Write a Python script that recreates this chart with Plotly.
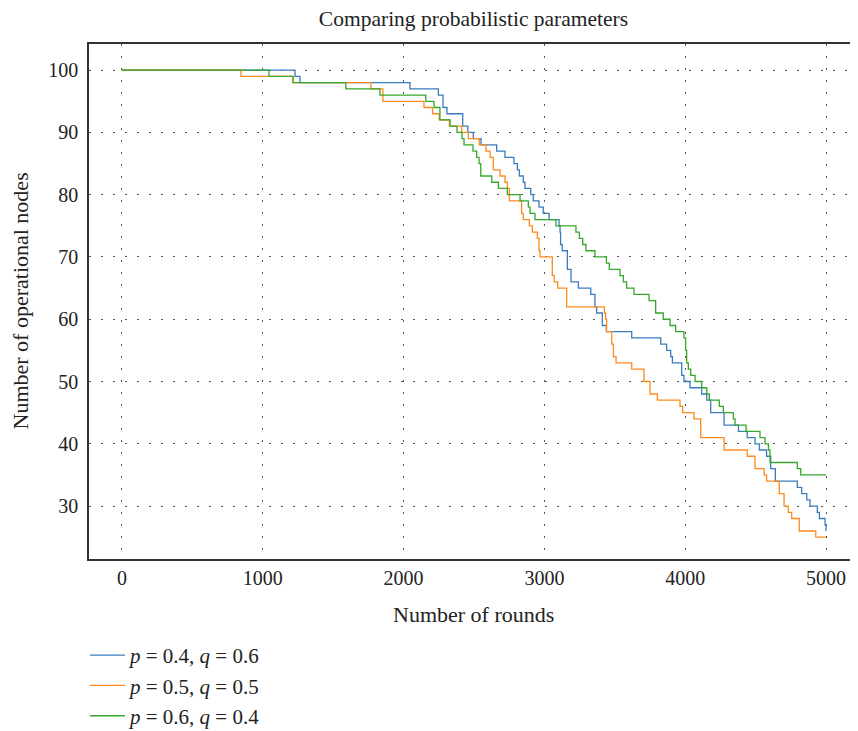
import plotly.graph_objects as go

# ---- data ----
series_names = ["<i>p</i> = 0.4, <i>q</i> = 0.6",
                "<i>p</i> = 0.5, <i>q</i> = 0.5",
                "<i>p</i> = 0.6, <i>q</i> = 0.4"]

blue_rounds = [0, 1229, 1264, 2045, 2247, 2280, 2308, 2420, 2456, 2495, 2550, 2661, 2720, 2784,
               2808, 2822, 2850, 2862, 2903, 2921, 2962, 2992, 3033, 3104, 3111, 3115, 3127, 3163,
               3189, 3241, 3329, 3359, 3371, 3411, 3440, 3620, 3826, 3868, 3897, 3909, 3975, 3991,
               4034, 4117, 4153, 4181, 4276, 4378, 4440, 4496, 4527, 4578, 4607, 4640, 4796, 4827,
               4863, 4886, 4938, 4953, 4993, 5000]
blue_nodes = [100, 99, 98, 97, 96, 94, 93, 91, 90, 89, 88, 87, 86, 85,
              84, 83, 82, 81, 80, 79, 78, 77, 76, 75, 74, 72, 71, 68,
              66, 65, 64, 62, 61, 59, 58, 57, 56, 55, 54, 53, 51, 50,
              49, 48, 47, 45, 43, 42, 41, 40, 39, 38, 36, 34, 33, 32,
              31, 30, 29, 28, 27, 26]

orange_rounds = [0, 845, 1215, 1768, 1853, 2145, 2206, 2253, 2325, 2412, 2460, 2538, 2585, 2614,
                 2637, 2685, 2720, 2737, 2751, 2838, 2850, 2893, 2914, 2950, 2962, 2969, 3056, 3070,
                 3094, 3158, 3426, 3435, 3442, 3478, 3490, 3509, 3620, 3707, 3750, 3802, 3963, 3982,
                 4062, 4110, 4276, 4440, 4496, 4560, 4578, 4668, 4702, 4732, 4756, 4810, 4927, 5000]
orange_nodes = [100, 99, 98, 97, 95, 94, 93, 92, 91, 90, 89, 88, 87, 86,
                84, 83, 82, 81, 79, 77, 76, 75, 74, 73, 71, 70, 67, 66,
                65, 62, 61, 60, 58, 56, 54, 53, 52, 50, 48, 47, 46, 45,
                44, 41, 39, 38, 36, 35, 34, 32, 30, 29, 28, 26, 25, 25]

green_rounds = [0, 1044, 1215, 1590, 1832, 2158, 2216, 2258, 2330, 2379, 2415, 2429, 2493, 2519,
                2536, 2548, 2626, 2673, 2737, 2827, 2886, 2898, 2933, 3082, 3224, 3248, 3272, 3295,
                3359, 3440, 3461, 3537, 3561, 3584, 3636, 3743, 3790, 3844, 3892, 3932, 3991, 4003,
                4010, 4022, 4039, 4070, 4117, 4153, 4171, 4242, 4271, 4342, 4354, 4432, 4531, 4567,
                4591, 4602, 4796, 4820, 5000]
green_nodes = [100, 99, 98, 97, 96, 95, 94, 92, 91, 90, 89, 88, 87, 86,
               85, 83, 82, 81, 80, 79, 78, 77, 76, 75, 74, 73, 72, 71,
               70, 69, 68, 67, 66, 65, 64, 63, 61, 60, 59, 58, 57, 55,
               53, 52, 51, 50, 49, 48, 47, 46, 45, 44, 43, 42, 41, 40,
               39, 37, 36, 35, 35]

x_ticks = [0, 1000, 2000, 3000, 4000, 5000]
y_ticks = [30, 40, 50, 60, 70, 80, 90, 100]

colors = ["#3a7dbf", "#ff8a1c", "#35a82a"]
FONT = "Liberation Serif"

# page body adds an 8px margin, so the figure is sized to end at the window edge
W, H = 850, 723
PLOT_W, PLOT_H = 769, 515

fig = go.Figure()
for name, xs, ys, c in zip(series_names,
                           [blue_rounds, orange_rounds, green_rounds],
                           [blue_nodes, orange_nodes, green_nodes], colors):
    fig.add_trace(go.Scatter(x=xs, y=ys, mode="lines", name=name,
                             line=dict(shape="hv", color=c, width=1.3)))

grid = dict(showgrid=True, gridcolor="#555555", gridwidth=1.3, griddash="1.5px,10.5px",
            showline=True, linecolor="#333333", linewidth=1.5, ticks="", zeroline=False,
            tickfont=dict(family=FONT, size=20, color="#222222"))

fig.update_layout(
    width=W, height=H,
    margin=dict(l=81, r=0, t=36, b=172, autoexpand=False),
    paper_bgcolor="white", plot_bgcolor="white",
    font=dict(family=FONT, color="#222222"),
    title=dict(text="Comparing probabilistic parameters", x=0.5, xref="paper",
               y=1 - 10.5 / H, yref="container", yanchor="middle", xanchor="center",
               font=dict(family=FONT, size=21.5, color="#222222")),
    xaxis=dict(range=[-234, 5227], tickvals=x_ticks, mirror=True, **grid),
    yaxis=dict(range=[21.5, 104.2], tickvals=y_ticks, mirror=False, ticklabelstandoff=5, **grid),
    showlegend=True,
    legend=dict(x=-4 / PLOT_W, xanchor="left", y=-(635 - 559) / PLOT_H, yanchor="top",
                orientation="v",
                font=dict(family=FONT, size=21, color="#222222"), bgcolor="rgba(0,0,0,0)",
                itemwidth=35, tracegroupgap=0),
    annotations=[
        dict(text="Number of rounds", xref="paper", yref="paper", x=0.5, y=-(614 - 559) / PLOT_H,
             xanchor="center", yanchor="middle", showarrow=False,
             font=dict(family=FONT, size=22, color="#222222")),
        dict(text="Number of operational nodes", xref="paper", yref="paper",
             x=-(89 - 20) / PLOT_W, y=0.5, xanchor="center", yanchor="middle", textangle=-90,
             showarrow=False, font=dict(family=FONT, size=22, color="#222222")),
    ],
)

fig.write_html("out.html")
